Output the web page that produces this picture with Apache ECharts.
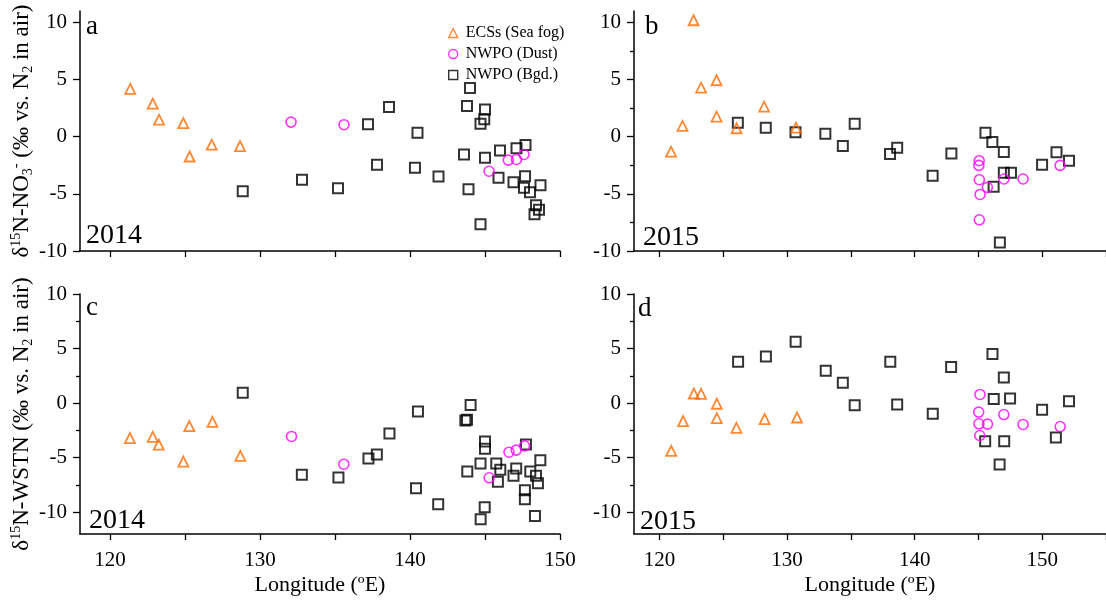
<!DOCTYPE html>
<html><head><meta charset="utf-8">
<script src="https://cdn.jsdelivr.net/npm/echarts@6.0.0/dist/echarts.min.js"></script>
<style>html,body{margin:0;padding:0;background:#fff}#chart{width:1106px;height:602px}</style>
</head><body><div id="chart"></div>
<script>
// ---- data: [longitude (°E), δ15N value] ----
const aSeaFog = [[121.35,4.18],[122.85,2.89],[123.27,1.49],[124.89,1.19],[125.31,-1.73],[126.78,-0.70],[128.67,-0.82]];
const aDust = [[132.07,1.28],[135.6,1.05],[145.27,-3.02],[146.55,-2.05],[147.1,-1.99],[147.6,-1.55]];
const aBgd = [[128.85,-4.77],[132.8,-3.77],[135.2,-4.5],[137.2,1.08],[138.6,2.6],[137.8,-2.46],[140.5,0.35],[140.33,-2.72],[141.9,-3.48],[144.0,4.26],[143.8,2.69],[145.0,2.39],[144.95,1.52],[144.7,1.14],[143.6,-1.55],[145.0,-1.84],[143.9,-4.59],[144.7,-7.66],[146.0,-1.2],[147.1,-1.0],[147.7,-0.73],[145.9,-3.6],[146.9,-3.98],[147.67,-3.45],[147.6,-4.47],[148.0,-4.86],[148.7,-4.24],[148.4,-6.0],[148.6,-6.4],[148.3,-6.79]];

const bSeaFog = [[120.9,-1.31],[121.8,0.94],[122.67,10.19],[123.26,4.29],[124.47,4.94],[124.47,1.75],[126.04,0.74],[128.2,2.63],[130.7,0.79]];
const bDust = [[145.06,-2.1],[145.03,-2.51],[145.07,-3.76],[145.13,-5.05],[145.07,-7.27],[145.7,-4.43],[147.0,-3.7],[148.5,-3.7],[151.4,-2.51]];
const bBgd = [[126.14,1.23],[128.33,0.79],[130.66,0.39],[133.0,0.26],[134.37,-0.81],[135.3,1.14],[138.07,-1.51],[138.63,-0.96],[141.41,-3.41],[142.88,-1.46],[145.55,0.35],[146.09,-0.46],[146.99,-1.34],[146.99,-3.15],[147.55,-3.15],[146.19,-4.38],[146.68,-9.25],[149.99,-2.45],[151.12,-1.37],[152.1,-2.1]];

const cSeaFog = [[121.33,-3.21],[122.85,-3.09],[123.25,-3.8],[124.89,-5.36],[125.29,-2.11],[126.83,-1.72],[128.69,-4.83]];
const cDust = [[132.1,-3.06],[135.59,-5.6],[145.28,-6.85],[146.6,-4.5],[147.08,-4.31],[147.64,-3.92]];
const cBgd = [[128.85,0.94],[132.79,-6.58],[135.23,-6.82],[137.23,-5.08],[137.79,-4.71],[138.63,-2.79],[140.53,-0.77],[140.4,-7.8],[141.88,-9.27],[144.04,-0.18],[143.69,-1.59],[143.8,-1.53],[145.0,-3.52],[145.0,-4.19],[143.82,-6.27],[144.7,-5.54],[145.75,-5.54],[146.02,-6.12],[145.86,-7.22],[144.98,-9.54],[144.71,-10.64],[147.73,-3.79],[147.08,-6.0],[146.9,-6.67],[148.02,-6.27],[148.69,-5.23],[148.4,-6.67],[148.53,-7.34],[147.66,-7.98],[147.66,-8.81],[148.33,-10.34]];

const dSeaFog = [[120.92,-4.38],[121.85,-1.65],[122.69,0.88],[123.26,0.85],[124.49,-0.06],[124.49,-1.38],[126.03,-2.27],[128.24,-1.47],[130.78,-1.32]];
const dDust = [[145.12,0.79],[145.02,-0.83],[145.04,-1.9],[145.71,-1.93],[145.1,-2.97],[146.99,-1.05],[148.5,-1.96],[151.41,-2.15]];
const dBgd = [[126.16,3.79],[128.34,4.28],[130.67,5.62],[133.03,2.96],[134.37,1.86],[135.3,-0.2],[138.09,3.79],[138.63,-0.12],[141.42,-0.98],[142.86,3.3],[146.1,4.49],[146.99,2.35],[146.2,0.37],[147.48,0.42],[145.53,-3.49],[147.02,-3.49],[146.66,-5.63],[149.99,-0.61],[151.07,-3.16],[152.1,0.18]];

// ---- tick values & labels ----
const xTicksLeft = [120,125,130,135,140,145,150];
const xTicksRight = [120,125,130,135,140,145,150,155];
const xLabelValues = [120,130,140,150];
const yMajor = [-10,-5,0,5,10];
const yMinor = [-7.5,-2.5,2.5,7.5];
const seriesNames = ['ECSs (Sea fog)','NWPO (Dust)','NWPO (Bgd.)'];
const panelLetters = ['a','b','c','d'];
const panelYears = ['2014','2015','2014','2015'];
const xTitle = 'Longitude (ºE)';
const yTitleTop = '{n|δ}{sup|15}{n|N-NO}{sub|3}{sup|-}{n| (‰ vs. N}{sub|2}{n| in air)}';
const yTitleBottom = '{n|δ}{sup|15}{n|N-WSTN (‰ vs. N}{sub|2}{n| in air)}';

const SERIF = '"Liberation Serif", "Times New Roman", serif';

const panels = [
  {fog:aSeaFog, dust:aDust, bgd:aBgd, grid:{left:80, top:11, width:480, height:240}, xMax:150, xTicks:xTicksLeft, yMin:-10, yMax:11, xLabels:false, yName:yTitleTop, minor:false},
  {fog:bSeaFog, dust:bDust, bgd:bBgd, grid:{left:634, top:11, width:481, height:240}, xMax:155, xTicks:xTicksRight, yMin:-10, yMax:11, xLabels:false, yName:'', minor:true},
  {fog:cSeaFog, dust:cDust, bgd:cBgd, grid:{left:80, top:294, width:480, height:240}, xMax:150, xTicks:xTicksLeft, yMin:-12, yMax:10, xLabels:true, yName:yTitleBottom, minor:true},
  {fog:dSeaFog, dust:dDust, bgd:dBgd, grid:{left:634, top:294, width:481, height:240}, xMax:155, xTicks:xTicksRight, yMin:-12, yMax:10, xLabels:true, yName:'', minor:true}
];

const axisLine = {show:true, onZero:false, lineStyle:{color:'#000', width:1.5}};
const grids = [], xAxes = [], yAxes = [], series = [], graphics = [];

const styles = {
  fog:{symbol:'triangle', symbolSize:10, itemStyle:{color:'rgba(0,0,0,0)', borderColor:'#FF6A00', borderWidth:1.8}},
  dust:{symbol:'circle', symbolSize:10, itemStyle:{color:'rgba(0,0,0,0)', borderColor:'#FF00FF', borderWidth:1.6}},
  bgd:{symbol:'rect', symbolSize:10, itemStyle:{color:'rgba(0,0,0,0)', borderColor:'#000', borderWidth:2}}
};

panels.forEach((p, i) => {
  grids.push(Object.assign({containLabel:false}, p.grid));
  xAxes.push({
    type:'value', gridIndex:i, min:118, max:p.xMax,
    axisLine:axisLine,
    axisTick:{show:true, length:6, lineStyle:{color:'#000', width:1.3}, customValues:p.xTicks},
    axisLabel:{show:p.xLabels, customValues:xLabelValues, margin:16, fontFamily:SERIF, fontSize:21, color:'#000'},
    splitLine:{show:false},
    name:p.xLabels ? xTitle : '', nameLocation:'middle', nameGap:40,
    nameTextStyle:{fontFamily:SERIF, fontSize:22, color:'#000'}
  });
  yAxes.push({
    type:'value', gridIndex:i, min:p.yMin, max:p.yMax, position:'left',
    axisLine:axisLine,
    axisTick:{show:true, length:7, lineStyle:{color:'#000', width:1.3}, customValues:yMajor},
    axisLabel:{show:true, customValues:yMajor, margin:13, fontFamily:SERIF, fontSize:21, color:'#000'},
    splitLine:{show:false},
    name:p.yName, nameLocation:'middle', nameGap:37,
    nameTextStyle:{fontFamily:SERIF, fontSize:23, color:'#000',
      rich:{
        n:{fontFamily:SERIF, fontSize:23, color:'#000', lineHeight:26},
        sup:{fontFamily:SERIF, fontSize:14, color:'#000', verticalAlign:'top', lineHeight:14},
        sub:{fontFamily:SERIF, fontSize:14, color:'#000', verticalAlign:'bottom', lineHeight:14}
      }}
  });
  yAxes.push({
    type:'value', gridIndex:i, min:p.yMin, max:p.yMax, position:'left',
    axisLine:{show:false, onZero:false},
    axisTick:{show:p.minor, length:4, lineStyle:{color:'#000', width:1.3}, customValues:yMinor},
    axisLabel:{show:false},
    splitLine:{show:false}
  });
  const order = [['bgd', 2], ['dust', 1], ['fog', 0]];
  order.forEach(([key, ni]) => {
    series.push(Object.assign({
      type:'scatter', name:seriesNames[ni], xAxisIndex:i, yAxisIndex:2*i,
      data:p[key], animation:false, emphasis:{disabled:true}, z:3 + (2-ni)
    }, styles[key]));
  });
});

// panel letters and years (positions in px)
const letterPos = [[86,27],[645,27],[86,308],[638,309]];
const yearPos = [[86,235.5],[643,237.5],[89,520.5],[640,521.5]];
letterPos.forEach((pos, i) => {
  graphics.push({type:'text', x:pos[0], y:pos[1], silent:true,
    style:{text:panelLetters[i], font:'27px ' + SERIF, fill:'#000', align:'left', verticalAlign:'middle', textAlign:'left', textVerticalAlign:'middle'}});
});
yearPos.forEach((pos, i) => {
  graphics.push({type:'text', x:pos[0], y:pos[1], silent:true,
    style:{text:panelYears[i], font:'28px ' + SERIF, fill:'#000', align:'left', verticalAlign:'middle', textAlign:'left', textVerticalAlign:'middle'}});
});

const chart = echarts.init(document.getElementById('chart'), null, {renderer:'canvas'});
chart.setOption({
  animation:false,
  backgroundColor:'#fff',
  grid:grids, xAxis:xAxes, yAxis:yAxes, series:series,
  legend:{
    data:seriesNames, orient:'vertical', left:443, top:20,
    itemWidth:9, itemHeight:9, itemGap:5, symbolKeepAspect:true,
    itemStyle:{color:'rgba(0,0,0,0)', borderWidth:1.4},
    textStyle:{fontFamily:SERIF, fontSize:16, color:'#000', padding:[0,0,0,3]},
    selectedMode:false
  },
  graphic:graphics
});
</script>
</body></html>
